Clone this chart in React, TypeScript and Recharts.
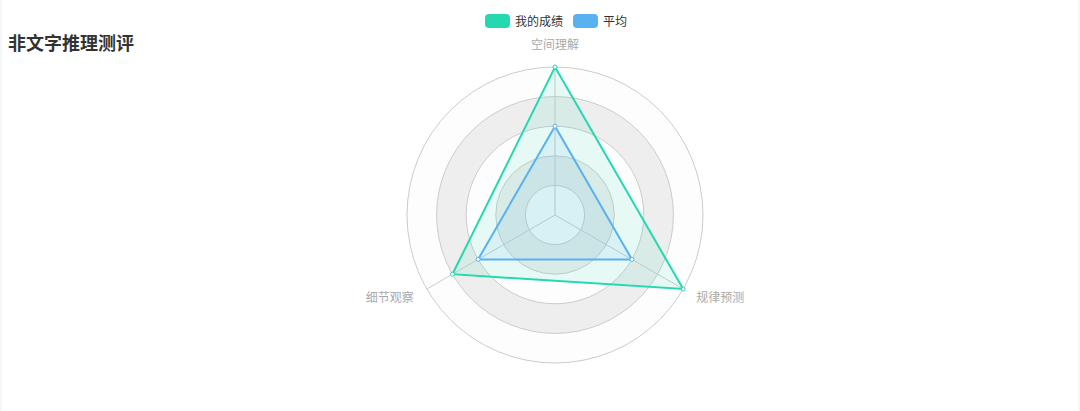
import React from "react";
import {
  RadarChart,
  Radar,
  PolarGrid,
  PolarAngleAxis,
  PolarRadiusAxis,
  Legend,
  PieChart,
  Pie,
} from "recharts";

// indicators, clockwise from the top
const indicators = ["空间理解", "规律预测", "细节观察"];
const myScores = [100, 100, 80];
const avgScores = [60, 60, 60];
const maxScore = 100;
const gridLevels = [20, 40, 60, 80, 100];

const seriesNames = ["我的成绩", "平均"];
const seriesColors = ["#24d8b0", "#5ab1ef"];

const W = 1080;
const H = 411;
const CX = 555;
const CY = 215;
const R = 148;
const FONT = "'Noto Sans CJK SC', 'Noto Sans', sans-serif";
const NO_MARGIN = { top: 0, right: 0, bottom: 0, left: 0 };

const data = indicators.map((name, i) => ({
  name,
  mine: myScores[i],
  avg: avgScores[i],
}));

const ringRadii = gridLevels.map((v) => (v / maxScore) * R);
const bandFills = ["rgba(250,250,250,0.3)", "rgba(200,200,200,0.3)"];

const AxisName = (props: any) => {
  const { x, y, payload } = props;
  const dx = x - CX;
  const dy = y - CY;
  const len = Math.sqrt(dx * dx + dy * dy) || 1;
  const px = CX + (dx / len) * (R + 15);
  const py = CY + (dy / len) * (R + 15);
  let anchor: "start" | "middle" | "end" = "middle";
  if (dx > 1) anchor = "start";
  else if (dx < -1) anchor = "end";
  const top = Math.abs(dx) <= 1 && dy < 0;
  return (
    <text
      x={px}
      y={top ? py - 3 : py}
      textAnchor={anchor}
      dominantBaseline={top ? "auto" : "central"}
      fill="#aaa"
      fontSize={12}
      fontFamily={FONT}
    >
      {payload.value}
    </text>
  );
};

const LegendContent = () => (
  <div style={{ display: "flex", alignItems: "center", fontFamily: FONT, fontSize: 12, color: "#333" }}>
    {seriesNames.map((n, i) => (
      <div key={n} style={{ display: "flex", alignItems: "center", marginRight: 10 }}>
        <span
          style={{
            display: "inline-block",
            width: 25,
            height: 14,
            borderRadius: 4,
            background: seriesColors[i],
            marginRight: 5,
          }}
        />
        <span>{n}</span>
      </div>
    ))}
  </div>
);

export default function App() {
  document.body.style.margin = "0";
  document.body.style.background = "#f6f6f6";

  return (
    <div style={{ position: "relative", width: W, height: H, background: "#f6f6f6" }}>
      <div style={{ position: "absolute", left: 2, top: 0, width: W - 4, height: H, background: "#fff" }} />
      <div
        style={{
          position: "absolute",
          left: 8,
          top: 30,
          fontFamily: FONT,
          fontSize: 18,
          fontWeight: "bold",
          color: "#333",
          lineHeight: "24px",
        }}
      >
        非文字推理测评
      </div>

      {/* alternating split areas behind the radar */}
      <div style={{ position: "absolute", left: 0, top: 0 }}>
        <PieChart width={W} height={H} margin={NO_MARGIN}>
          {ringRadii.map((r, i) => (
            <Pie
              key={i}
              data={[{ value: 1 }]}
              dataKey="value"
              cx={CX}
              cy={CY}
              innerRadius={i === 0 ? 0 : ringRadii[i - 1]}
              outerRadius={r}
              startAngle={90}
              endAngle={-270}
              fill={bandFills[i % 2]}
              stroke="none"
              isAnimationActive={false}
            />
          ))}
        </PieChart>
      </div>

      <div style={{ position: "absolute", left: 0, top: 0 }}>
        <RadarChart width={W} height={H} data={data} cx={CX} cy={CY} outerRadius={R} margin={NO_MARGIN}>
          <PolarGrid gridType="circle" polarRadius={ringRadii} stroke="#ccc" />
          <PolarRadiusAxis domain={[0, maxScore]} tick={false} axisLine={false} />
          <PolarAngleAxis dataKey="name" tick={<AxisName />} tickLine={false} axisLine={false} />
          <Radar
            name={seriesNames[0]}
            dataKey="mine"
            stroke={seriesColors[0]}
            strokeWidth={2}
            fill={seriesColors[0]}
            fillOpacity={0.1}
            dot={{ r: 2, fill: "#fff", stroke: seriesColors[0], strokeWidth: 1, fillOpacity: 1 }}
            isAnimationActive={false}
          />
          <Radar
            name={seriesNames[1]}
            dataKey="avg"
            stroke={seriesColors[1]}
            strokeWidth={2}
            fill={seriesColors[1]}
            fillOpacity={0.1}
            dot={{ r: 2, fill: "#fff", stroke: seriesColors[1], strokeWidth: 1, fillOpacity: 1 }}
            isAnimationActive={false}
          />
          <Legend
            verticalAlign="top"
            content={<LegendContent />}
            wrapperStyle={{ top: 12, left: 485, width: 200 }}
          />
        </RadarChart>
      </div>
    </div>
  );
}
